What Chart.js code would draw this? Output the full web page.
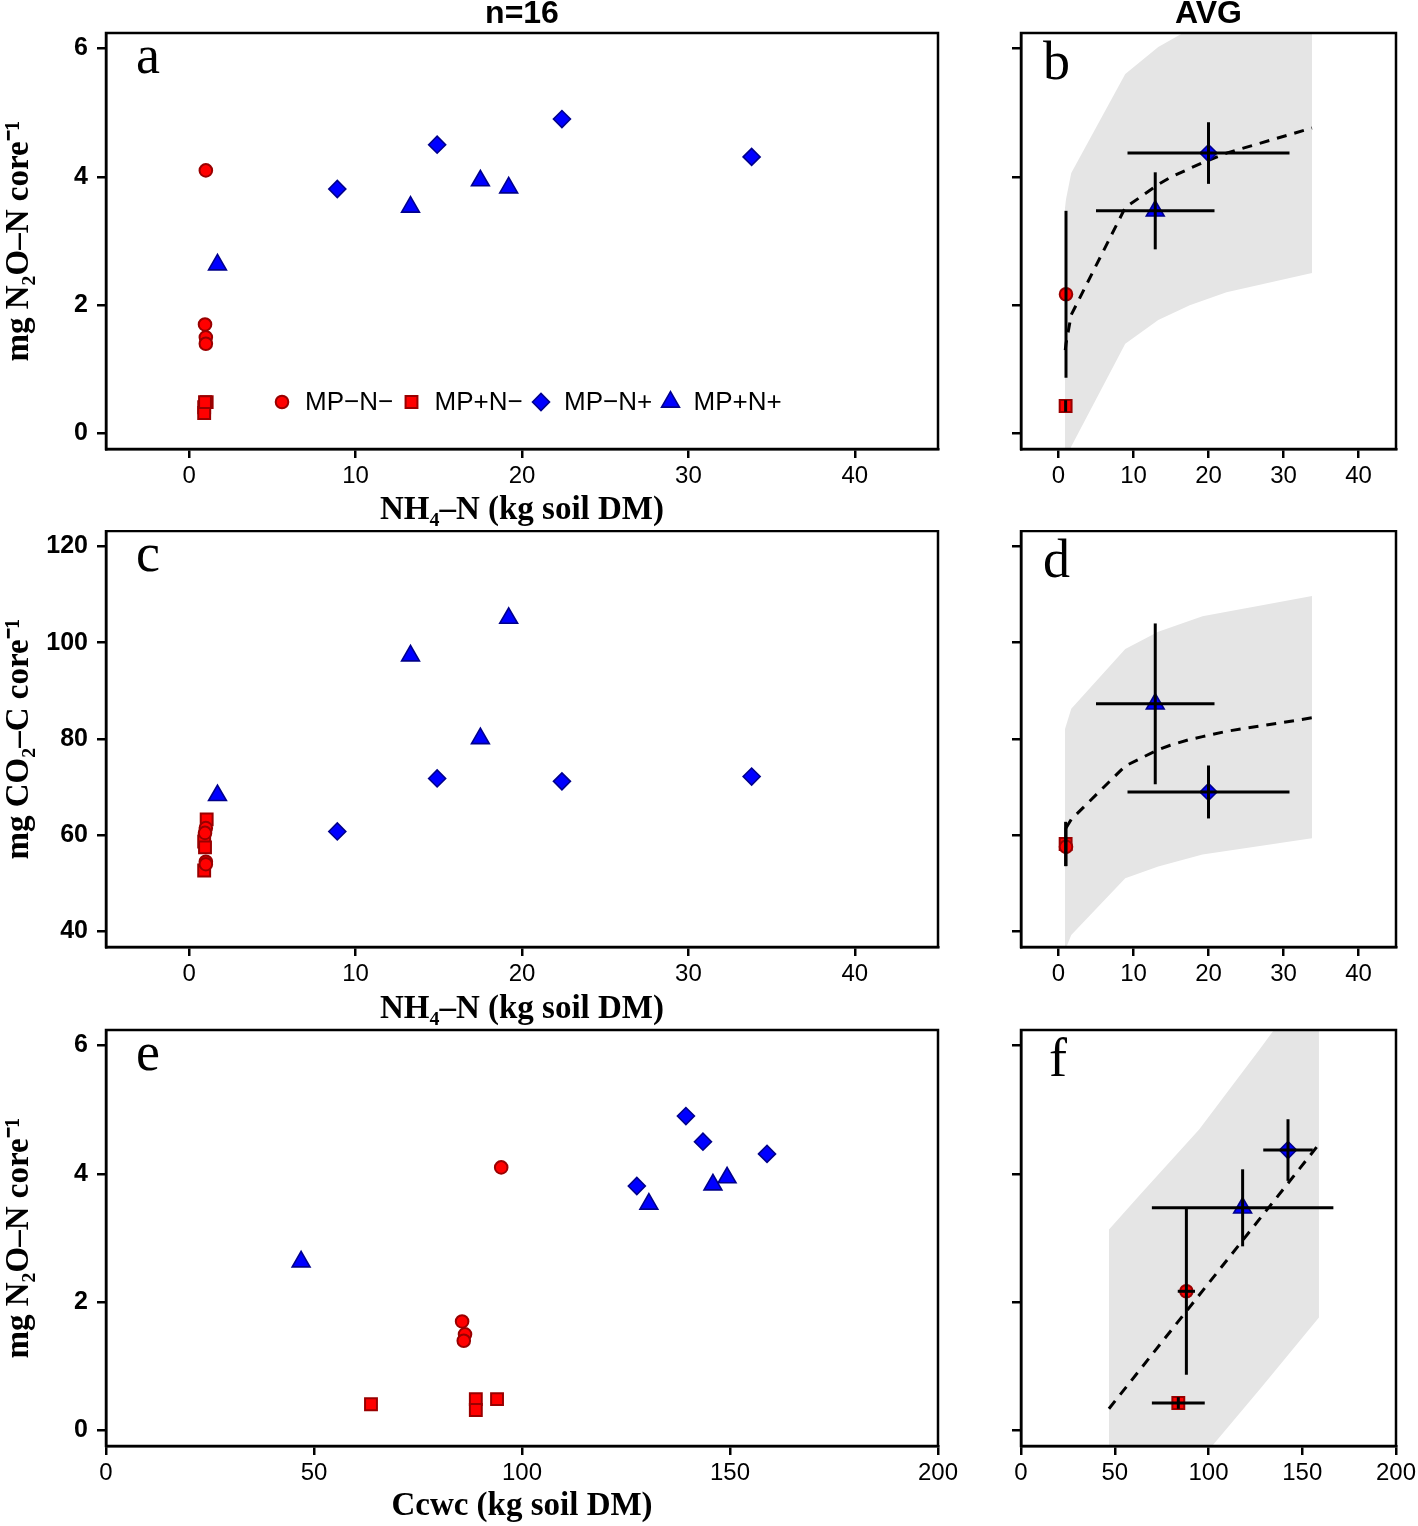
<!DOCTYPE html>
<html>
<head>
<meta charset="utf-8">
<script src="https://cdn.jsdelivr.net/npm/chart.js@4.4.1/dist/chart.umd.min.js"></script>
<style>
  body { margin: 0; background: #fff; width: 1418px; height: 1526px; position: relative; overflow: hidden; }
  canvas { position: absolute; }
</style>
</head>
<body>
<canvas id="chartA" width="960" height="530" style="left:0;top:0"></canvas>
<canvas id="chartB" width="458" height="530" style="left:960px;top:0"></canvas>
<canvas id="chartC" width="960" height="498" style="left:0;top:530px"></canvas>
<canvas id="chartD" width="458" height="498" style="left:960px;top:530px"></canvas>
<canvas id="chartE" width="960" height="498" style="left:0;top:1028px"></canvas>
<canvas id="chartF" width="458" height="498" style="left:960px;top:1028px"></canvas>
<script>
'use strict'

// treatment order: MP-N- (circle), MP+N- (square), MP-N+ (diamond), MP+N+ (triangle)
const groupLabels = ['MP\u2212N\u2212', 'MP+N\u2212', 'MP\u2212N+', 'MP+N+']

// single cores (n=16)
const nh4 = [
  [1.0, 0.95, 1.0, 1.0],
  [1.05, 0.9, 0.9, 0.95],
  [8.9, 14.9, 22.4, 33.8],
  [1.7, 13.3, 17.5, 19.2],
]
const n2o = [
  [4.1, 1.7, 1.5, 1.4],
  [0.49, 0.41, 0.32, 0.49],
  [3.81, 4.5, 4.9, 4.31],
  [2.63, 3.53, 3.94, 3.83],
]
const co2 = [
  [61.5, 60.5, 54.5, 54.0],
  [63.3, 58.7, 52.7, 57.5],
  [60.8, 71.8, 71.2, 72.2],
  [68.3, 97.3, 80.1, 105.1],
]
const ccwc = [
  [95.0, 85.6, 86.3, 86.0],
  [88.9, 63.7, 88.9, 94.0],
  [127.6, 143.5, 139.4, 158.9],
  [46.9, 130.5, 149.3, 145.9],
]

// treatment averages with error bars (AVG)
const avgNh4 = [1.0, 0.95, 20.0, 12.9]
const avgNh4Err = [0.03, 0.07, 10.8, 7.9]
const avgN2o = [2.17, 0.43, 4.37, 3.47]
const avgN2oErr = [1.3, 0.09, 0.48, 0.6]
const avgCo2 = [57.6, 58.2, 69.0, 87.3]
const avgCo2Err = [4.0, 4.6, 5.5, 16.7]
const avgCcwc = [88.2, 83.9, 142.4, 118.2]
const avgCcwcErr = [4.6, 14.1, 13.2, 48.4]

// fitted curves (dashed) and prediction bands (grey)
const fitBx = [0.9, 1.0, 1.7, 8.9, 13.3, 14.9, 17.5, 19.2, 22.4, 33.8]
const fitBy = [1.3, 1.4, 1.85, 3.52, 3.88, 3.99, 4.13, 4.22, 4.37, 4.76]
const bandBx = [0.85, 1.0, 1.7, 8.9, 13.3, 17.5, 22.4, 33.8]
const bandBhi = [3.5, 3.65, 4.06, 5.6, 6.02, 6.3, 6.5, 6.9]
const bandBlo = [-0.8, -0.6, -0.2, 1.4, 1.77, 2.0, 2.2, 2.5]

const fitDx = [1.0, 1.7, 8.9, 13.3, 14.9, 17.5, 19.2, 22.4, 33.8]
const fitDy = [61.5, 63.3, 74.4, 77.8, 78.7, 79.9, 80.5, 81.6, 84.4]
const bandDx = [0.85, 1.7, 8.9, 13.3, 19.2, 33.8]
const bandDhi = [82.0, 86.3, 98.7, 102.3, 105.5, 109.7]
const bandDlo = [36.0, 39.3, 51.1, 53.5, 56.0, 59.4]

const fitFx = [46.9, 158.9]
const fitFy = [0.34, 4.46]
const bandFx = [46.9, 63.7, 95.0, 127.6, 158.9]
const bandFhi = [3.13, 3.68, 4.69, 5.95, 7.2]
const bandFlo = [-2.1, -1.5, -0.48, 0.65, 1.76]

// axes
const nh4Ticks = [0, 10, 20, 30, 40]
const ccwcTicks = [0, 50, 100, 150, 200]
const n2oTicks = [0, 2, 4, 6]
const co2Ticks = [40, 60, 80, 100, 120]

const RED = '#ff0000'
const RED_EDGE = '#990000'
const BLUE = '#0000ff'
const BLUE_EDGE = '#00008b'
const groupStyle = [
  { pointStyle: 'circle', radius: 6.3, fill: RED, edge: RED_EDGE, bw: 2 },
  { pointStyle: 'rect', radius: 8.4, fill: RED, edge: RED_EDGE, bw: 2 },
  { pointStyle: 'rectRot', radius: 8.5, fill: BLUE, edge: BLUE_EDGE, bw: 1.6 },
  { pointStyle: 'triangle', radius: 10.3, fill: BLUE, edge: BLUE_EDGE, bw: 1.6 },
]

const SANS = '"Liberation Sans", Arial, sans-serif'
const SERIF = '"Liberation Serif", "Times New Roman", serif'
const pts = (xs, ys) => xs.map((x, i) => ({ x, y: ys[i] }))

function markerSets(xs, ys) {
  return groupStyle.map((g, i) => ({
    type: 'scatter',
    data: pts(xs[i], ys[i]),
    pointStyle: g.pointStyle,
    pointRadius: g.radius,
    pointBackgroundColor: g.fill,
    pointBorderColor: g.edge,
    pointBorderWidth: g.bw,
    order: 5,
  }))
}

function avgSets(xs, xe, ys, ye) {
  const marks = markerSets(xs.map((v) => [v]), ys.map((v) => [v]))
  const bars = []
  xs.forEach((x, i) => {
    const y = ys[i]
    bars.push(pts([x - xe[i], x + xe[i]], [y, y]))
    bars.push(pts([x, x], [y - ye[i], y + ye[i]]))
  })
  return marks.concat(bars.map((d) => ({
    type: 'line', data: d, borderColor: '#000', borderWidth: 3,
    pointRadius: 0, fill: false, order: 0,
  })))
}

function fitSets(fx, fy, bx, hi, lo) {
  return [
    { type: 'line', data: pts(bx, hi), borderColor: 'rgba(0,0,0,0)', borderWidth: 0,
      backgroundColor: '#e5e5e5', fill: '+1', pointRadius: 0, order: 20 },
    { type: 'line', data: pts(bx, lo), borderColor: 'rgba(0,0,0,0)', borderWidth: 0,
      fill: false, pointRadius: 0, order: 21 },
    { type: 'line', data: pts(fx, fy), borderColor: '#000', borderWidth: 3, borderDash: [10, 8],
      fill: false, pointRadius: 0, order: 8 },
  ]
}

function axis(min, max, ticks, o) {
  return {
    type: 'linear',
    min, max,
    afterBuildTicks: (s) => { s.ticks = ticks.map((v) => ({ value: v })) },
    afterFit: (s) => {
      if (s.isHorizontal()) s.height = o.size
      else s.width = o.size
      s.paddingLeft = s.paddingRight = s.paddingTop = s.paddingBottom = 0
    },
    border: { display: true, color: '#000', width: 2.5 },
    grid: {
      display: true, drawOnChartArea: false, drawTicks: true, tickLength: 9,
      tickWidth: 2.5, tickColor: '#000', color: '#000', lineWidth: 2.5,
    },
    ticks: {
      display: o.labels !== false,
      font: o.bold ? { family: SANS, size: 25, weight: 'bold' } : { family: SANS, size: 24 },
      color: '#000', padding: o.pad, maxRotation: 0, autoSkip: false,
      callback: (v) => String(v),
    },
    title: o.title
      ? { display: true, text: o.title, color: '#000', padding: { top: o.tpad, bottom: o.tpad },
          font: { family: SERIF, size: 33, weight: 'bold', lineHeight: 1.1 } }
      : { display: false },
  }
}

const decorPlugin = {
  id: 'decor',
  afterDatasetsDraw(chart, args, opts) {
    const { ctx, chartArea: a } = chart
    ctx.save()
    ctx.lineWidth = 2.5
    ctx.strokeStyle = '#000'
    ctx.strokeRect(a.left, a.top, a.right - a.left, a.bottom - a.top)
    ctx.fillStyle = '#000'
    ctx.font = '54px ' + SERIF
    ctx.textBaseline = 'alphabetic'
    ctx.textAlign = 'left'
    ctx.fillText(opts.letter, a.left + opts.lx, a.top + opts.ly)
    if (opts.legend) {
      const y = a.bottom - 47
      ctx.font = '26px ' + SANS
      ctx.textBaseline = 'middle'
      groupStyle.forEach((g, i) => {
        const x = a.left + 176 + i * 129.5
        ctx.fillStyle = g.fill
        ctx.strokeStyle = g.edge
        ctx.lineWidth = g.bw
        Chart.helpers.drawPoint(ctx, { pointStyle: g.pointStyle, radius: g.radius, rotation: 0, borderWidth: g.bw }, x, y)
        ctx.fillStyle = '#000'
        ctx.fillText(groupLabels[i], x + 23, y + 1)
      })
    }
    ctx.restore()
  },
}

function build(id, datasets, o) {
  return new Chart(document.getElementById(id), {
    type: 'scatter',
    data: { datasets },
    options: {
      responsive: false,
      animation: false,
      devicePixelRatio: 1,
      layout: { padding: o.padding, autoPadding: false },
      plugins: {
        legend: { display: false },
        tooltip: { enabled: false },
        title: o.header
          ? { display: true, text: o.header, fullSize: false, color: '#000',
              font: { family: SANS, size: 32, weight: 'bold', lineHeight: 0.9 }, padding: { top: 0, bottom: 4.2 } }
          : { display: false },
        decor: { letter: o.letter, lx: o.lx, ly: o.ly, legend: !!o.legend },
      },
      scales: { x: o.x, y: o.y },
    },
    plugins: [decorPlugin],
  })
}

const yTitleN2o = 'mg N\u2082O\u2013N core\u207B\u00B9'
const yTitleCo2 = 'mg CO\u2082\u2013C core\u207B\u00B9'
const xTitleNh4 = 'NH\u2084\u2013N (kg soil DM)'
const xTitleCcwc = 'Ccwc (kg soil DM)'

// a
build('chartA', markerSets(nh4, n2o), {
  header: 'n=16', letter: 'a', lx: 30, ly: 40, legend: true,
  padding: { left: 0, right: 22, top: 0, bottom: 0 },
  x: axis(-5, 45, nh4Ticks, { size: 81, pad: 4, title: xTitleNh4, tpad: 1 }),
  y: axis(-0.24, 6.24, n2oTicks, { size: 106, pad: 9, bold: true, title: yTitleN2o, tpad: 1 }),
})
// b
build('chartB', fitSets(fitBx, fitBy, bandBx, bandBhi, bandBlo).concat(avgSets(avgNh4, avgNh4Err, avgN2o, avgN2oErr)), {
  header: 'AVG', letter: 'b', lx: 22, ly: 46,
  padding: { left: 0, right: 22, top: 0, bottom: 0 },
  x: axis(-5, 45, nh4Ticks, { size: 81, pad: 4 }),
  y: axis(-0.24, 6.24, n2oTicks, { size: 61, pad: 9, labels: false }),
})
// c
build('chartC', markerSets(nh4, co2), {
  letter: 'c', lx: 30, ly: 40,
  padding: { left: 0, right: 22, top: 1, bottom: 0 },
  x: axis(-5, 45, nh4Ticks, { size: 81, pad: 4, title: xTitleNh4, tpad: 0 }),
  y: axis(36.8, 123.2, co2Ticks, { size: 106, pad: 9, bold: true, title: yTitleCo2, tpad: 1 }),
})
// d
build('chartD', fitSets(fitDx, fitDy, bandDx, bandDhi, bandDlo).concat(avgSets(avgNh4, avgNh4Err, avgCo2, avgCo2Err)), {
  letter: 'd', lx: 22, ly: 46,
  padding: { left: 0, right: 22, top: 1, bottom: 0 },
  x: axis(-5, 45, nh4Ticks, { size: 81, pad: 4 }),
  y: axis(36.8, 123.2, co2Ticks, { size: 61, pad: 9, labels: false }),
})
// e
build('chartE', markerSets(ccwc, n2o), {
  letter: 'e', lx: 30, ly: 40,
  padding: { left: 0, right: 22, top: 2, bottom: 0 },
  x: axis(0, 200, ccwcTicks, { size: 80, pad: 4, title: xTitleCcwc, tpad: 1 }),
  y: axis(-0.24, 6.24, n2oTicks, { size: 106, pad: 9, bold: true, title: yTitleN2o, tpad: 1 }),
})
// f
build('chartF', fitSets(fitFx, fitFy, bandFx, bandFhi, bandFlo).concat(avgSets(avgCcwc, avgCcwcErr, avgN2o, avgN2oErr)), {
  letter: 'f', lx: 28, ly: 46,
  padding: { left: 0, right: 22, top: 2, bottom: 0 },
  x: axis(0, 200, ccwcTicks, { size: 80, pad: 4 }),
  y: axis(-0.24, 6.24, n2oTicks, { size: 61, pad: 9, labels: false }),
})
</script>
</body>
</html>
